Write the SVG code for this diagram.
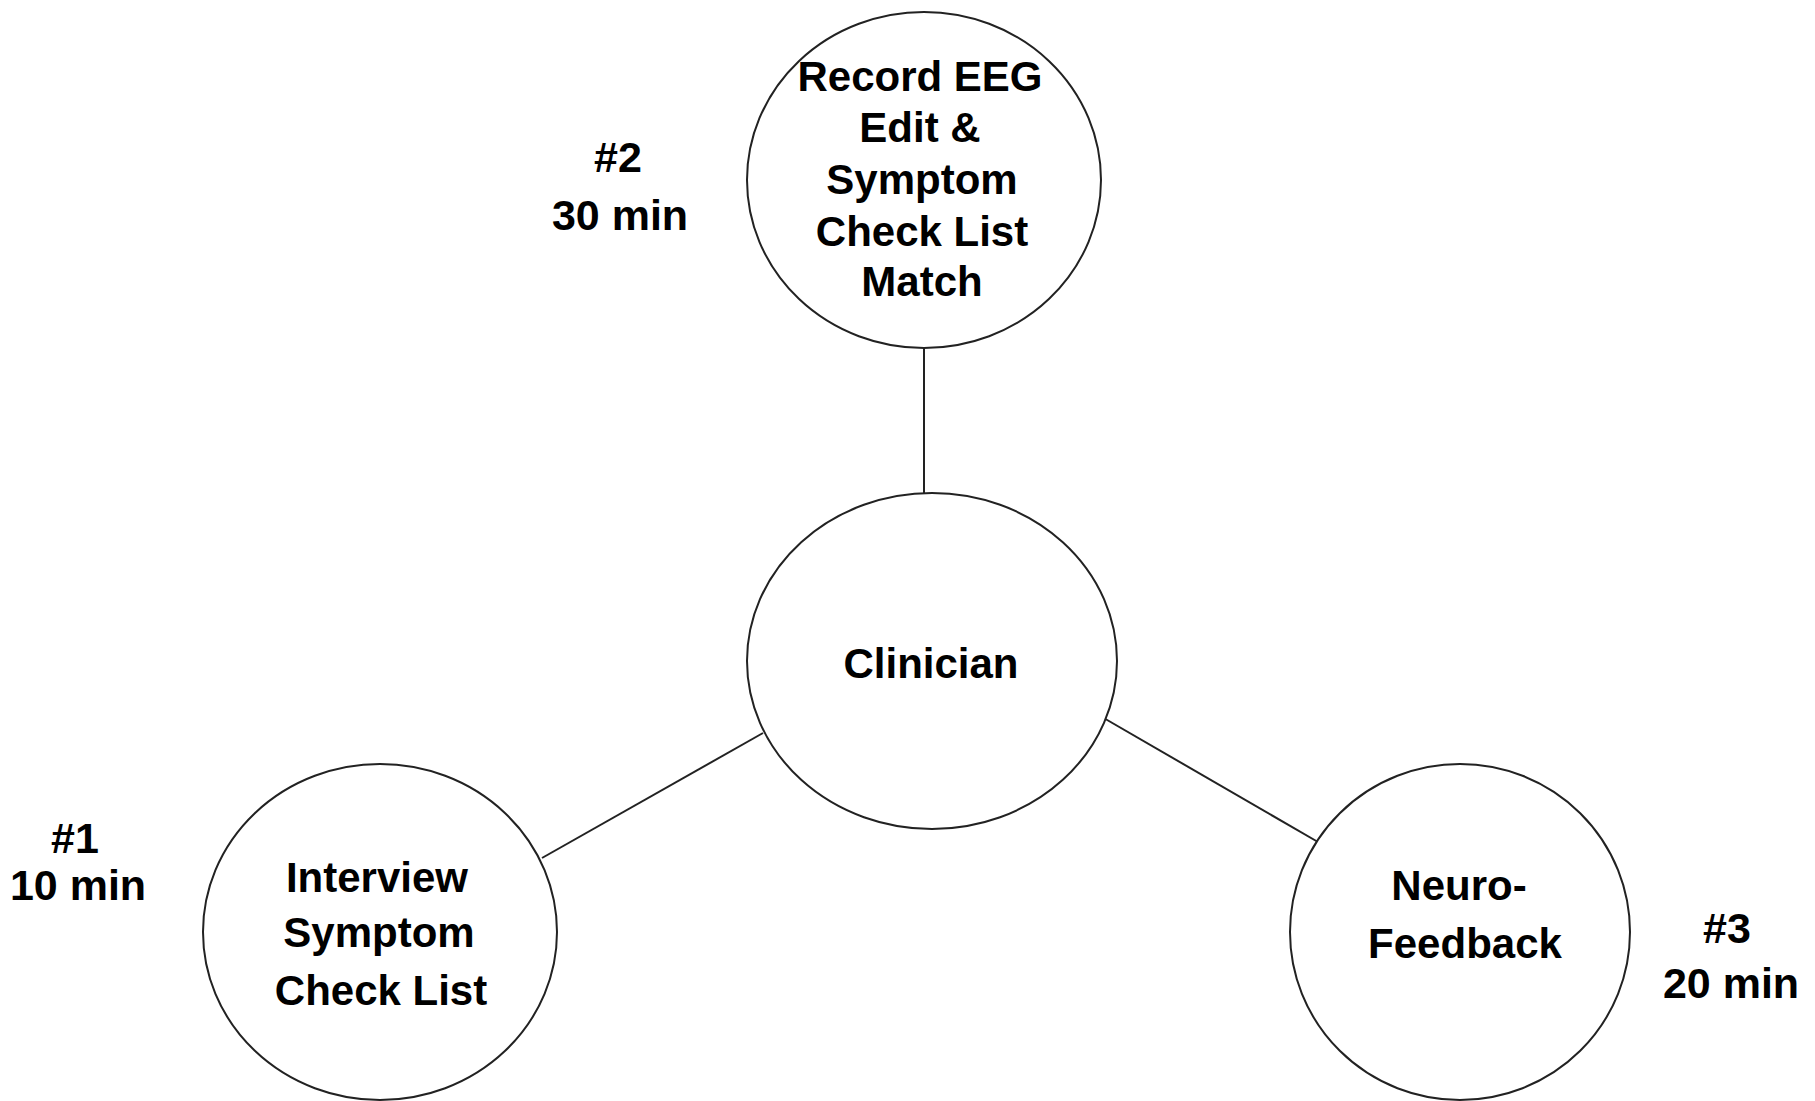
<svg xmlns="http://www.w3.org/2000/svg" width="1815" height="1101" viewBox="0 0 1815 1101">
<style>
.n{fill:#fff;stroke:#222;stroke-width:2}
.c{stroke:#222;stroke-width:2;fill:none}
text{font-family:"Liberation Sans",Arial,sans-serif;font-weight:bold;font-size:42px;fill:#000;text-anchor:middle}
.l{font-size:43px}
</style>
<rect width="1815" height="1101" fill="#fff"/>
<g id="connectors">
<line class="c" x1="924" y1="348" x2="924" y2="493"/>
<line class="c" x1="763" y1="733" x2="542" y2="858"/>
<line class="c" x1="1102" y1="717" x2="1318" y2="842"/>
</g>
<g id="node-record">
<ellipse class="n" cx="924" cy="180" rx="177" ry="168"/>
<text x="920" y="91">Record EEG</text>
<text x="920" y="142">Edit &amp;</text>
<text x="922" y="194">Symptom</text>
<text x="922" y="246">Check List</text>
<text x="922" y="296">Match</text>
</g>
<g id="node-clinician">
<ellipse class="n" cx="932" cy="661" rx="185" ry="168"/>
<text x="931" y="678">Clinician</text>
</g>
<g id="node-interview">
<ellipse class="n" cx="380" cy="932" rx="177" ry="168"/>
<text x="377" y="892">Interview</text>
<text x="379" y="947">Symptom</text>
<text x="381" y="1005">Check List</text>
</g>
<g id="node-neuro">
<ellipse class="n" cx="1460" cy="932" rx="170" ry="168"/>
<text x="1459" y="900">Neuro-</text>
<text x="1465" y="958">Feedback</text>
</g>
<g id="labels">
<text class="l" x="618" y="172">#2</text>
<text class="l" x="620" y="230">30 min</text>
<text class="l" x="75" y="853">#1</text>
<text class="l" x="78" y="900">10 min</text>
<text class="l" x="1727" y="943">#3</text>
<text class="l" x="1731" y="998">20 min</text>
</g>
</svg>
